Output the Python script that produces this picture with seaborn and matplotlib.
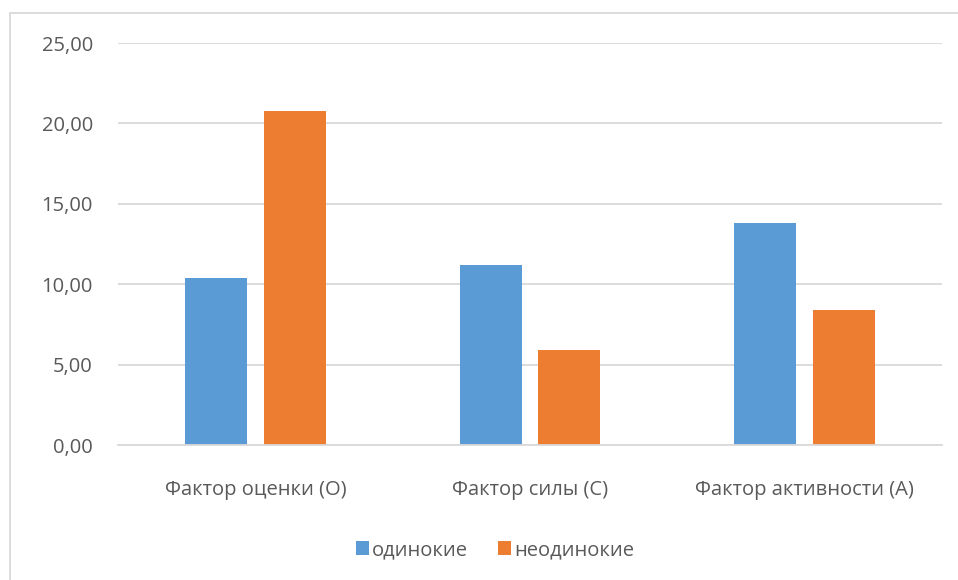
import matplotlib.pyplot as plt
import seaborn as sns
import pandas as pd
from matplotlib.patches import Rectangle

categories = ['Фактор оценки (О)', 'Фактор силы (С)', 'Фактор активности (А)']
single = [10.37, 11.17, 13.79]
not_single = [20.76, 5.91, 8.40]
series_names = ['одинокие', 'неодинокие']
yticks = [0, 5, 10, 15, 20, 25]

df = pd.DataFrame({
    'category': categories * 2,
    'value': single + not_single,
    'group': [series_names[0]] * 3 + [series_names[1]] * 3,
})

sns.set_style('white')
plt.rcParams['font.family'] = ['Open Sans', 'DejaVu Sans']

fig = plt.figure(figsize=(9.58, 5.8), dpi=100)
ax = fig.add_axes([118 / 958, 1 - 445 / 580, 824 / 958, 402 / 580])

palette = {'одинокие': '#5b9bd5', 'неодинокие': '#ed7d31'}
sns.barplot(data=df, x='category', y='value', hue='group', palette=palette,
            width=0.575, gap=0.215, saturation=1, linewidth=0, ax=ax, legend=True)

ax.set_ylim(0, 25)
ax.set_xlim(-0.5, 2.5)
ax.set_yticks(yticks)
ax.set_yticklabels([f'{t:.2f}'.replace('.', ',') for t in yticks])
ax.yaxis.grid(True, color='#d9d9d9', linewidth=1.3)
ax.set_axisbelow(True)
for s in ax.spines.values():
    s.set_visible(False)
ax.spines['bottom'].set_visible(True)
ax.spines['bottom'].set_color('#d9d9d9')
ax.spines['bottom'].set_linewidth(1.3)
ax.tick_params(axis='both', length=0, labelsize=14.5, labelcolor='#595959')
ax.tick_params(axis='y', pad=18)
ax.tick_params(axis='x', pad=25)
ax.set_xlabel('')
ax.set_ylabel('')

handles, labels = ax.get_legend_handles_labels()
ax.get_legend().remove()
fig.legend(handles, labels, loc='center', bbox_to_anchor=(495 / 958, 1 - 550 / 580),
           ncol=2, frameon=False, fontsize=14.5, labelcolor='#595959',
           handlelength=0.65, handleheight=0.65, handletextpad=0.15, columnspacing=1.5)

fig.patches.append(Rectangle((10 / 958, -0.1), 1.2, 1 - 13 / 580 + 0.1,
                             transform=fig.transFigure, fill=False,
                             edgecolor='#d9d9d9', linewidth=1.3))

fig.savefig('out.png', dpi=100)
